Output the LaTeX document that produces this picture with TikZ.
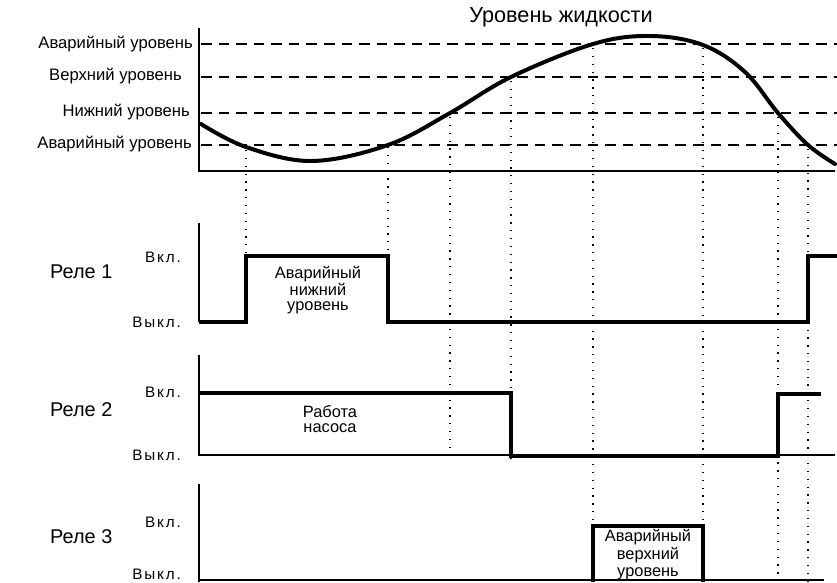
\documentclass[tikz,border=0pt]{standalone}
\usepackage{fontspec}
\setmainfont{Liberation Sans}
\tikzset{
  axis/.style={line width=2.4pt},
  level/.style={line width=1.2pt, dash pattern=on 9pt off 6pt},
  guide/.style={line width=1.1pt, dash pattern=on 1.1pt off 5.6pt},
  signal/.style={line width=3.2pt},
  base/.style={line width=1.8pt},
  lbl/.style={font=\fontsize{14.2}{16}\selectfont, inner sep=0pt},
  relay/.style={font=\fontsize{17}{18}\selectfont, inner sep=0pt},
  state/.style={font=\fontsize{13}{14}\selectfont\addfontfeatures{LetterSpace=12}, inner sep=0pt, anchor=east},
  note/.style={font=\fontsize{14}{13}\selectfont, align=center, inner sep=0pt}
}
\begin{document}
\begin{tikzpicture}[x=0.03cm, y=-0.03cm]
\useasboundingbox (0,0) rectangle (837,582);

%level diagram
\draw[axis] (199,28) -- (199,171) -- (835,171);
\draw[level] (201,44) -- (837,44);
\draw[level] (201,77) -- (837,77);
\draw[level] (201,113) -- (837,113);
\draw[level] (201,145) -- (837,145);

\node[lbl, anchor=east] (avhi) at (193,44) {Аварийный уровень};
\node[lbl, anchor=east] (hi) at (182,76) {Верхний уровень};
\node[lbl, anchor=east] (lo) at (190,112) {Нижний уровень};
\node[lbl, anchor=east] (avlo) at (192,144) {Аварийный уровень};
\node[font=\fontsize{18.5}{20}\selectfont, inner sep=0pt] (title) at (561,17) {Уровень жидкости};

\draw[line width=3.4pt, line cap=round] plot[smooth, tension=0.6] coordinates {
  (201,124) (246,147) (312,161) (388,145) (450,113) (511,77)
  (593,44) (650,36) (703,45) (745,72) (778,113) (808,145) (835,164)};

%guides
\draw[guide] (246,150) -- (246,255);
\draw[guide] (388,147) -- (388,255);
\draw[guide] (450,117) -- (450,455);
\draw[guide] (511,81) -- (511,458);
\draw[guide] (593,48) -- (593,525);
\draw[guide] (703,48) -- (703,525);
\draw[guide] (778,117) -- (778,582);
\draw[guide] (808,149) -- (808,582);

%relay 1
\draw[axis] (199,223) -- (199,322);
\draw[signal] (199,322) -- (246,322) -- (246,256) -- (388,256) -- (388,322)
  -- (808,322) -- (808,256) -- (837,256);
\node[relay, anchor=west] (r1) at (50,272) {Реле 1};
\node[state] (on1) at (181,257) {Вкл.};
\node[state] (off1) at (181,322) {Выкл.};
\node[note] (n1) at (318,290) {Аварийный\\нижний\\уровень};

%relay 2
\draw[axis] (199,355) -- (199,456);
\draw[base] (199,455) -- (835,455);
\draw[signal] (199,393) -- (511,393) -- (511,456) -- (778,456) -- (778,394) -- (821,394);
\node[relay, anchor=west] (r2) at (50,410) {Реле 2};
\node[state] (on2) at (181,392) {Вкл.};
\node[state] (off2) at (181,455) {Выкл.};
\node[note] (n2) at (330,419) {Работа\\насоса};

%relay 3
\draw[axis] (199,484) -- (199,582);
\draw[base] (199,580) -- (824,580);
\draw[signal] (593,582) -- (593,526) -- (703,526) -- (703,582);
\node[relay, anchor=west] (r3) at (50,537) {Реле 3};
\node[state] (on3) at (181,522) {Вкл.};
\node[state] (off3) at (181,574) {Выкл.};
\node[note, font=\fontsize{14}{15}\selectfont] (n3) at (648,555) {Аварийный\\верхний\\уровень};

\end{tikzpicture}
\end{document}
